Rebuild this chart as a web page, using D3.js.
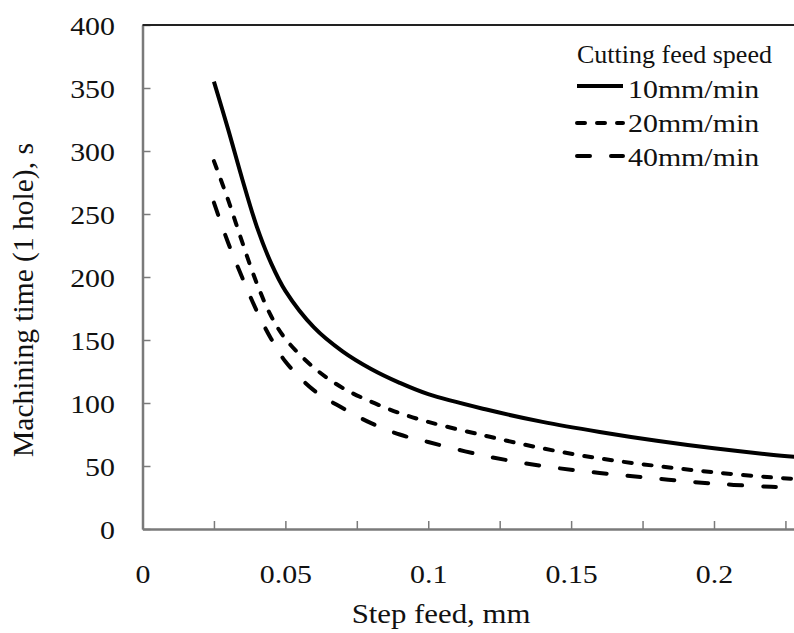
<!DOCTYPE html>
<html>
<head>
<meta charset="utf-8">
<script src="https://cdn.jsdelivr.net/npm/d3@7"></script>
<style>
  body { margin: 0; background: #fff; }
  svg { display: block; font-family: "Liberation Serif", "Times New Roman", serif; }
</style>
</head>
<body>
<div id="chart"></div>
<script>
const stepFeed = [0.025, 0.03, 0.035, 0.04, 0.045, 0.05, 0.06, 0.07, 0.08, 0.09, 0.1, 0.12, 0.14, 0.16, 0.18, 0.2, 0.22, 0.23];
const time10 = [355, 317, 277, 240, 211, 189, 160, 141, 127, 116, 107, 95, 85, 77, 70, 64, 59, 57];
const time20 = [292, 261, 227, 195, 169, 151, 128, 112, 101, 92, 85, 74, 64, 56, 50, 45, 41, 39.5];
const time40 = [259, 227, 199, 173, 151, 133, 110, 96, 84, 75, 69, 58, 50, 44.5, 40, 36, 33.5, 32.5];

const seriesNames = ["10mm/min", "20mm/min", "40mm/min"];
const yTicks = [0, 50, 100, 150, 200, 250, 300, 350, 400];
const xTicks = [0, 0.025, 0.05, 0.075, 0.1, 0.125, 0.15, 0.175, 0.2, 0.225];
const xTickLabels = ["0", "", "0.05", "", "0.1", "", "0.15", "", "0.2", ""];

const W = 794, H = 633;
const serif = "Liberation Serif";

const svg = d3.select("#chart")
  .append("svg")
  .attr("width", W)
  .attr("height", H);

const x = d3.scaleLinear().domain([0, 0.228]).range([142.5, 794]);
const y = d3.scaleLinear().domain([0, 400]).range([529, 25]);

const axisColor = "#7a7a7a";
const stretch = 1.15;

// y axis
const yAxis = svg.append("g")
  .attr("transform", `translate(${x(0)},0)`)
  .call(d3.axisLeft(y).tickValues(yTicks).tickSize(-8).tickSizeOuter(0))
  .attr("font-family", serif);
yAxis.select(".domain").attr("stroke", axisColor).attr("stroke-width", 2.5);
yAxis.selectAll(".tick line").attr("stroke", axisColor).attr("stroke-width", 1.5);
yAxis.selectAll(".tick text")
  .attr("x", -27.5 / stretch)
  .attr("dy", 9)
  .attr("transform", `scale(${stretch},1)`)
  .attr("fill", "#111")
  .style("font-size", "26px")
  .style("font-family", serif);

// x axis
const xAxis = svg.append("g")
  .attr("transform", `translate(0,${y(0)})`)
  .call(d3.axisBottom(x).tickValues(xTicks).tickSize(-8).tickSizeOuter(0)
    .tickFormat((d, i) => xTickLabels[i]))
  .attr("font-family", serif);
xAxis.select(".domain").attr("stroke", axisColor).attr("stroke-width", 2.5);
xAxis.selectAll(".tick line").attr("stroke", axisColor).attr("stroke-width", 1.5);
xAxis.selectAll(".tick text")
  .attr("x", 0)
  .attr("y", 54)
  .attr("dy", 0)
  .attr("transform", `scale(${stretch},1)`)
  .attr("fill", "#111")
  .style("font-size", "26px")
  .style("font-family", serif);

// top frame line
svg.append("line")
  .attr("x1", x(0)).attr("x2", x(0.228))
  .attr("y1", y(400)).attr("y2", y(400))
  .attr("stroke", "#222")
  .attr("stroke-width", 2);

// curves
const styles = [
  { dash: null },
  { dash: "8,12" },
  { dash: "13,21" }
];
const allSeries = [time10, time20, time40];

const line = d3.line()
  .x((d, i) => x(stepFeed[i]))
  .y(d => y(d))
  .curve(d3.curveCatmullRom.alpha(0.5));

allSeries.forEach((vals, k) => {
  svg.append("path")
    .datum(vals)
    .attr("d", line)
    .attr("fill", "none")
    .attr("stroke", "#000")
    .attr("stroke-width", 4)
    .attr("stroke-linecap", k === 0 ? "butt" : "round")
    .attr("stroke-dasharray", styles[k].dash);
});

// axis titles
svg.append("text")
  .attr("transform", `translate(441,623) scale(1.1,1)`)
  .attr("text-anchor", "middle")
  .attr("fill", "#111")
  .style("font-size", "28px")
  .text("Step feed, mm");

svg.append("text")
  .attr("transform", "translate(33,300) rotate(-90)")
  .attr("text-anchor", "middle")
  .attr("fill", "#111")
  .style("font-size", "29.5px")
  .text("Machining time (1 hole), s");

// legend
const legend = svg.append("g").attr("transform", "translate(577,0)");
legend.append("text")
  .attr("x", 0).attr("y", 63)
  .attr("fill", "#111")
  .style("font-size", "26px")
  .text("Cutting feed speed");

const legendLineY = [86, 123, 156];
const legendTextY = [98, 132, 166];
seriesNames.forEach((name, k) => {
  legend.append("line")
    .attr("x1", 0).attr("x2", 46)
    .attr("y1", legendLineY[k]).attr("y2", legendLineY[k])
    .attr("stroke", "#000")
    .attr("stroke-width", 4)
    .attr("stroke-linecap", k === 0 ? "butt" : "round")
    .attr("stroke-dasharray", styles[k].dash);
  legend.append("text")
    .attr("transform", `translate(51,${legendTextY[k]}) scale(${stretch},1)`)
    .attr("fill", "#111")
    .style("font-size", "26px")
    .text(name);
});
</script>
</body>
</html>
